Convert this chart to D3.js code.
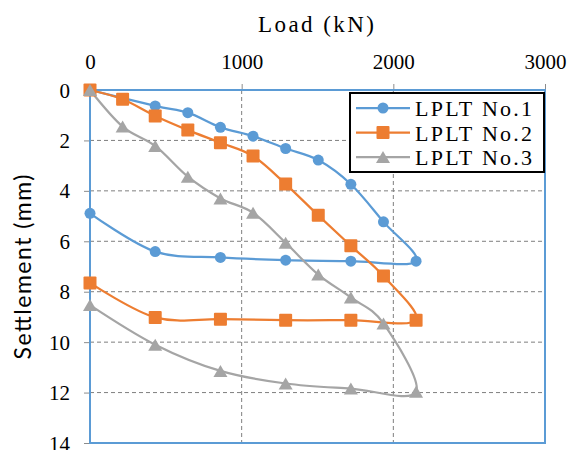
<!DOCTYPE html>
<html>
<head>
<meta charset="utf-8">
<script src="https://cdn.jsdelivr.net/npm/d3@7.9.0/dist/d3.min.js"></script>
<style>
  body { margin: 0; background: #fff; }
</style>
</head>
<body>
<div id="chart"></div>
<script>
// chart values
const seriesNames = ["LPLT No.1", "LPLT No.2", "LPLT No.3"];
const seriesColors = ["#5B9BD5", "#ED7D31", "#A5A5A5"];

const load1 = [0, 430, 645, 860, 1075, 1290, 1505, 1720, 1935, 2150, 1720, 1290, 860, 430, 0];
const settle1 = [0, 0.63, 0.9, 1.48, 1.83, 2.32, 2.78, 3.74, 5.23, 6.79, 6.79, 6.75, 6.64, 6.41, 4.89];

const load2 = [0, 215, 430, 645, 860, 1075, 1290, 1505, 1720, 1935, 2150, 1720, 1290, 860, 430, 0];
const settle2 = [0, 0.37, 1.03, 1.59, 2.09, 2.62, 3.73, 4.97, 6.18, 7.38, 9.13, 9.13, 9.13, 9.09, 9.02, 7.65];

const load3 = [0, 215, 430, 645, 860, 1075, 1290, 1505, 1720, 1935, 2150, 1720, 1290, 860, 430, 0];
const settle3 = [0, 1.45, 2.22, 3.44, 4.3, 4.87, 6.06, 7.32, 8.23, 9.26, 11.97, 11.84, 11.64, 11.14, 10.1, 8.53];

const xTicks = [0, 1000, 2000, 3000];
const yTicks = [0, 2, 4, 6, 8, 10, 12, 14];

const width = 582;
const height = 450;
const plot = { left: 90, top: 90, right: 545, bottom: 443 };
const serif = "'Liberation Serif', 'Times New Roman', serif";

const xScale = d3.scaleLinear().domain([0, 3000]).range([plot.left, plot.right]);
const yScale = d3.scaleLinear().domain([0, 14]).range([plot.top, plot.bottom]);

const svg = d3.select("#chart")
  .append("svg")
  .attr("width", width)
  .attr("height", height);

// dashed grid
svg.append("g")
  .selectAll("line")
  .data(xTicks.slice(1, -1))
  .join("line")
  .attr("x1", d => xScale(d)).attr("x2", d => xScale(d))
  .attr("y1", plot.top).attr("y2", plot.bottom)
  .attr("stroke", "#7f7f7f")
  .attr("stroke-width", 1)
  .attr("stroke-dasharray", "4,3");
svg.append("g")
  .selectAll("line")
  .data(yTicks.slice(1, -1))
  .join("line")
  .attr("x1", plot.left).attr("x2", plot.right)
  .attr("y1", d => yScale(d)).attr("y2", d => yScale(d))
  .attr("stroke", "#7f7f7f")
  .attr("stroke-width", 1)
  .attr("stroke-dasharray", "4,3");

// axes (ticks + labels)
const xAxis = svg.append("g")
  .attr("transform", `translate(0,${plot.top})`)
  .call(d3.axisTop(xScale).tickValues(xTicks).tickFormat(d3.format("d"))
    .tickSize(6).tickPadding(15).tickSizeOuter(0));
const yAxis = svg.append("g")
  .attr("transform", `translate(${plot.left},0)`)
  .call(d3.axisLeft(yScale).tickValues(yTicks).tickFormat(d3.format("d"))
    .tickSize(6).tickPadding(14).tickSizeOuter(0));

[xAxis, yAxis].forEach(ax => {
  ax.select(".domain").remove();
  ax.selectAll(".tick line").attr("stroke", "#8c8c8c").attr("stroke-width", 1);
  ax.selectAll(".tick text")
    .attr("fill", "#000")
    .style("font-family", serif)
    .style("font-size", "21px");
});
yAxis.selectAll(".tick text").attr("dy", "0.34em");

// plot area border
svg.append("rect")
  .attr("x", plot.left).attr("y", plot.top)
  .attr("width", plot.right - plot.left)
  .attr("height", plot.bottom - plot.top)
  .attr("fill", "none")
  .attr("stroke", "#5B9BD5")
  .attr("stroke-width", 2);

// axis titles
svg.append("text")
  .attr("x", 316).attr("y", 32)
  .attr("text-anchor", "middle")
  .attr("textLength", 116)
  .attr("lengthAdjust", "spacing")
  .style("font-family", serif)
  .style("font-size", "23px")
  .text("Load  (kN)");

svg.append("text")
  .attr("transform", "translate(31,267) rotate(-90)")
  .attr("text-anchor", "middle")
  .attr("textLength", 185)
  .attr("lengthAdjust", "spacing")
  .style("font-family", "Lato, 'Noto Sans', sans-serif")
  .style("font-size", "23px")
  .text("Settlement  (mm)");

// series
const series = [
  { name: seriesNames[0], color: seriesColors[0], shape: "circle", pts: load1.map((x, i) => [x, settle1[i]]) },
  { name: seriesNames[1], color: seriesColors[1], shape: "square", pts: load2.map((x, i) => [x, settle2[i]]) },
  { name: seriesNames[2], color: seriesColors[2], shape: "triangle", pts: load3.map((x, i) => [x, settle3[i]]) }
];

const line = d3.line()
  .x(d => xScale(d[0]))
  .y(d => yScale(d[1]))
  .curve(d3.curveCatmullRom.alpha(0));

function drawMarker(g, shape, color) {
  if (shape === "circle") {
    g.append("circle").attr("r", 5.5).attr("fill", color);
  } else if (shape === "square") {
    g.append("rect")
      .attr("x", -6.5).attr("y", -6.5)
      .attr("width", 13).attr("height", 13)
      .attr("rx", 1)
      .attr("fill", color);
  } else {
    g.append("path").attr("d", "M0,-6L7,6L-7,6Z").attr("fill", color);
  }
}

series.forEach(s => {
  svg.append("path")
    .datum(s.pts)
    .attr("d", line)
    .attr("fill", "none")
    .attr("stroke", s.color)
    .attr("stroke-width", 2.25);
});
series.forEach(s => {
  s.pts.forEach(p => {
    const g = svg.append("g")
      .attr("transform", `translate(${xScale(p[0])},${yScale(p[1])})`);
    drawMarker(g, s.shape, s.color);
  });
});

// legend
const legend = svg.append("g");
legend.append("rect")
  .attr("x", 350).attr("y", 93)
  .attr("width", 194).attr("height", 79)
  .attr("fill", "#fff")
  .attr("stroke", "#000")
  .attr("stroke-width", 2);

series.forEach((s, i) => {
  const cy = 108 + i * 24.5;
  legend.append("line")
    .attr("x1", 356).attr("x2", 410)
    .attr("y1", cy).attr("y2", cy)
    .attr("stroke", s.color)
    .attr("stroke-width", 2.25);
  drawMarker(legend.append("g").attr("transform", `translate(383,${cy})`), s.shape, s.color);
  legend.append("text")
    .attr("x", 415).attr("y", cy + 8)
    .attr("textLength", 117)
    .attr("lengthAdjust", "spacing")
    .style("font-family", serif)
    .style("font-size", "22px")
    .text(s.name);
});
</script>
</body>
</html>
